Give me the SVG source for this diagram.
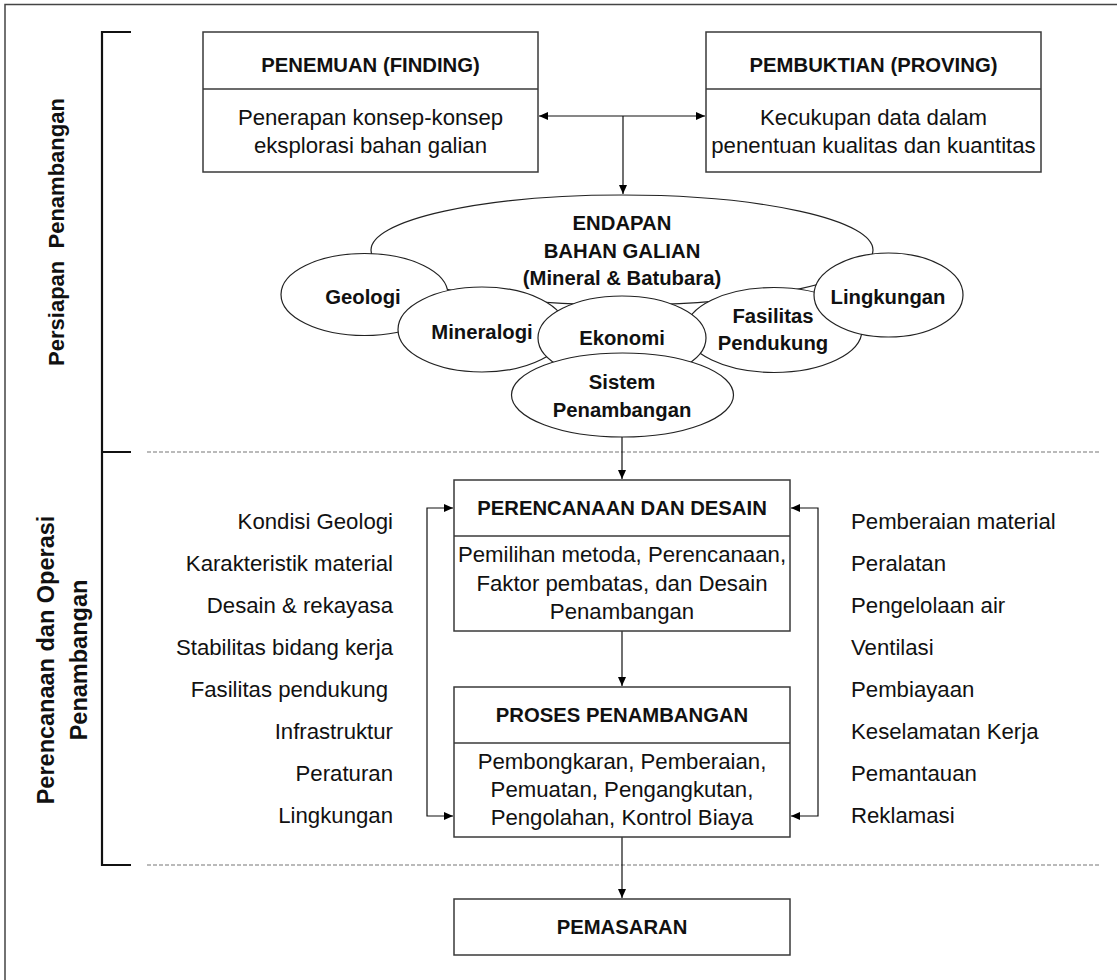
<svg xmlns="http://www.w3.org/2000/svg" width="1117" height="980" viewBox="0 0 1117 980">
<defs>
<marker id="ah" markerWidth="10" markerHeight="8" refX="9" refY="4" orient="auto-start-reverse" markerUnits="userSpaceOnUse">
<path d="M0,0 L9,4 L0,8 z" fill="#000"/>
</marker>
<style>
.box{fill:#fff;stroke:#3a3a3a;stroke-width:1.5}
.ell{fill:#fff;stroke:#222;stroke-width:1.2}
.t{font-family:"Liberation Sans",Arial,sans-serif;font-size:22.2px;fill:#111}
.b{font-family:"Liberation Sans",Arial,sans-serif;font-size:20.3px;font-weight:bold;fill:#111}
.c{text-anchor:middle}
.r{text-anchor:end}
.lbl{font-family:"Liberation Sans",Arial,sans-serif;font-weight:bold;fill:#111;text-anchor:middle}
.con{fill:none;stroke:#111;stroke-width:1.2}
.dash{stroke:#777;stroke-width:1.2;stroke-dasharray:4 2;fill:none}
.brk{fill:none;stroke:#111;stroke-width:2.2}
</style>
</defs>
<rect width="1117" height="980" fill="#fff"/>
<g id="frame">
<path d="M5,980 V4.5 H1117" fill="none" stroke="#444" stroke-width="1.5"/>
</g>
<g id="brackets">
<path class="brk" d="M131,32 H102 V865 H131 M102,452 H131"/>
<line class="dash" x1="147" y1="452" x2="1100" y2="452"/>
<line class="dash" x1="147" y1="865" x2="1100" y2="865"/>
</g>
<g id="label-persiapan">
<text class="lbl" font-size="22" transform="translate(64,232) rotate(-90)" xml:space="preserve">Persiapan  Penambangan</text>
</g>
<g id="label-perencanaan">
<text class="lbl" font-size="23.5" transform="translate(54,660) rotate(-90)">Perencanaan dan Operasi</text>
<text class="lbl" font-size="23.5" transform="translate(87,660) rotate(-90)">Penambangan</text>
</g>
<g id="connectors">
<line class="con" x1="539" y1="116" x2="705" y2="116" marker-start="url(#ah)" marker-end="url(#ah)"/>
<line class="con" x1="623" y1="116" x2="623" y2="194" marker-end="url(#ah)"/>
<line class="con" x1="622" y1="437" x2="622" y2="479" marker-end="url(#ah)"/>
<line class="con" x1="622" y1="631" x2="622" y2="686" marker-end="url(#ah)"/>
<line class="con" x1="622" y1="837" x2="622" y2="898" marker-end="url(#ah)"/>
<path class="con" d="M453,508 H427 V816 H453" marker-start="url(#ah)" marker-end="url(#ah)"/>
<path class="con" d="M791,508 H818 V816 H791" marker-start="url(#ah)" marker-end="url(#ah)"/>
</g>
<g id="penemuan">
<rect class="box" x="203" y="32" width="335" height="140"/>
<line class="box" x1="203" y1="89" x2="538" y2="89"/>
<text class="b c" x="370.5" y="72">PENEMUAN (FINDING)</text>
<text class="t c" x="370.5" y="125">Penerapan konsep-konsep</text>
<text class="t c" x="370.5" y="153">eksplorasi bahan galian</text>
</g>
<g id="pembuktian">
<rect class="box" x="706" y="32" width="335" height="140"/>
<line class="box" x1="706" y1="89" x2="1041" y2="89"/>
<text class="b c" x="873.5" y="72">PEMBUKTIAN (PROVING)</text>
<text class="t c" x="873.5" y="125">Kecukupan data dalam</text>
<text class="t c" x="873.5" y="153">penentuan kualitas dan kuantitas</text>
</g>
<g id="endapan">
<ellipse class="ell" cx="622" cy="250" rx="251" ry="55"/>
<text class="b c" x="622" y="230">ENDAPAN</text>
<text class="b c" x="622" y="258">BAHAN GALIAN</text>
<text class="b c" x="622" y="285">(Mineral &amp; Batubara)</text>
</g>
<g id="geologi">
<ellipse class="ell" cx="364.5" cy="294.5" rx="83.5" ry="41"/>
<text class="b c" x="363" y="304">Geologi</text>
</g>
<g id="fasilitas">
<ellipse class="ell" cx="774" cy="330" rx="88" ry="42.5"/>
<text class="b c" x="773" y="323">Fasilitas</text>
<text class="b c" x="773" y="350">Pendukung</text>
</g>
<g id="lingkungan">
<ellipse class="ell" cx="888.5" cy="295" rx="74.5" ry="42"/>
<text class="b c" x="888" y="304">Lingkungan</text>
</g>
<g id="mineralogi">
<ellipse class="ell" cx="482" cy="329.5" rx="84" ry="42.5"/>
<text class="b c" x="482" y="339">Mineralogi</text>
</g>
<g id="ekonomi">
<ellipse class="ell" cx="622" cy="338" rx="84" ry="42"/>
<text class="b c" x="622" y="345">Ekonomi</text>
</g>
<g id="sistem">
<ellipse class="ell" cx="622.5" cy="395" rx="111" ry="42"/>
<text class="b c" x="622" y="389">Sistem</text>
<text class="b c" x="622" y="417">Penambangan</text>
</g>
<g id="perencanaan">
<rect class="box" x="454" y="480" width="336" height="151"/>
<line class="box" x1="454" y1="536" x2="790" y2="536"/>
<text class="b c" x="622" y="515">PERENCANAAN DAN DESAIN</text>
<text class="t c" x="622" y="562">Pemilihan metoda, Perencanaan,</text>
<text class="t c" x="622" y="591">Faktor pembatas, dan Desain</text>
<text class="t c" x="622" y="619">Penambangan</text>
</g>
<g id="proses">
<rect class="box" x="454" y="687" width="336" height="150"/>
<line class="box" x1="454" y1="743" x2="790" y2="743"/>
<text class="b c" x="622" y="722">PROSES PENAMBANGAN</text>
<text class="t c" x="622" y="769">Pembongkaran, Pemberaian,</text>
<text class="t c" x="622" y="797">Pemuatan, Pengangkutan,</text>
<text class="t c" x="622" y="825">Pengolahan, Kontrol Biaya</text>
</g>
<g id="pemasaran">
<rect class="box" x="454" y="899" width="336" height="56"/>
<text class="b c" x="622" y="934">PEMASARAN</text>
</g>
<g id="left-factors">
<text class="t r" x="393" y="529">Kondisi Geologi</text>
<text class="t r" x="393" y="571">Karakteristik material</text>
<text class="t r" x="393" y="613">Desain &amp; rekayasa</text>
<text class="t r" x="393" y="655">Stabilitas bidang kerja</text>
<text class="t r" x="388" y="697">Fasilitas pendukung</text>
<text class="t r" x="393" y="739">Infrastruktur</text>
<text class="t r" x="393" y="781">Peraturan</text>
<text class="t r" x="393" y="823">Lingkungan</text>
</g>
<g id="right-factors">
<text class="t" x="851" y="529">Pemberaian material</text>
<text class="t" x="851" y="571">Peralatan</text>
<text class="t" x="851" y="613">Pengelolaan air</text>
<text class="t" x="851" y="655">Ventilasi</text>
<text class="t" x="851" y="697">Pembiayaan</text>
<text class="t" x="851" y="739">Keselamatan Kerja</text>
<text class="t" x="851" y="781">Pemantauan</text>
<text class="t" x="851" y="823">Reklamasi</text>
</g>
</svg>
